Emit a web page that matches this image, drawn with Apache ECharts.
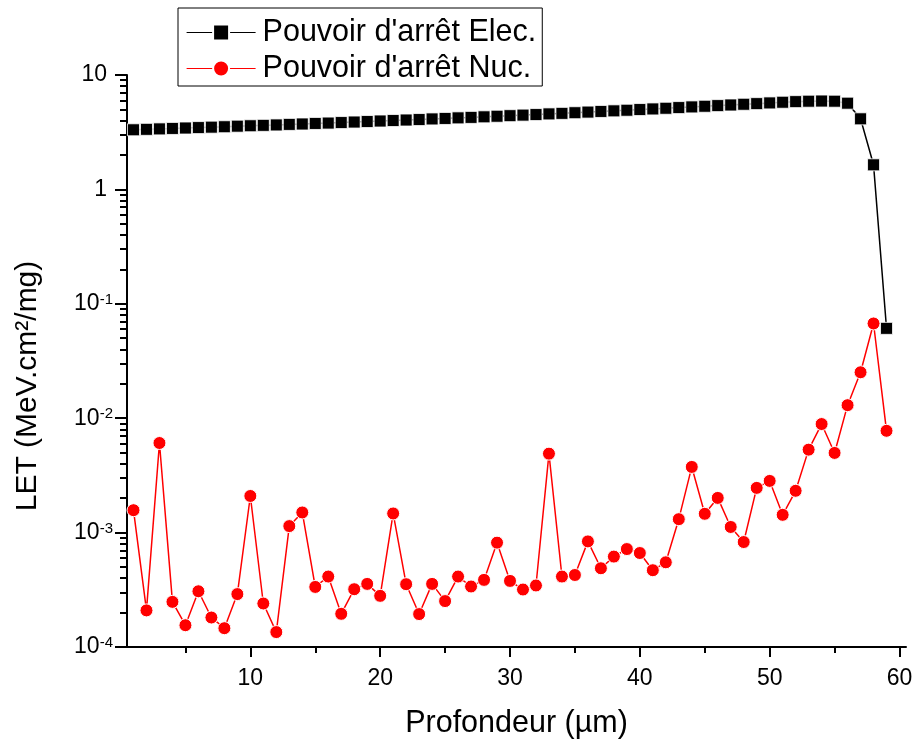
<!DOCTYPE html>
<html><head><meta charset="utf-8">
<script src="https://cdn.jsdelivr.net/npm/echarts@6/dist/echarts.min.js"></script>
<style>html,body{margin:0;padding:0;background:#fff}#c{width:918px;height:744px}</style>
</head><body><div id="c"></div>
<script>
// ---- data ----
const depth = [1,2,3,4,5,6,7,8,9,10,11,12,13,14,15,16,17,18,19,20,21,22,23,24,25,26,27,28,29,30,
  31,32,33,34,35,36,37,38,39,40,41,42,43,44,45,46,47,48,49,50,51,52,53,54,55,56,57,58,59];
const elecValues = [3.32,3.35,3.38,3.41,3.44,3.47,3.50,3.53,3.57,3.60,3.63,3.66,3.70,3.73,3.77,3.80,3.84,3.88,3.92,3.96,
  4.00,4.04,4.08,4.13,4.17,4.22,4.26,4.31,4.36,4.41,4.46,4.51,4.57,4.62,4.68,4.74,4.80,4.86,4.92,4.99,
  5.05,5.12,5.19,5.26,5.33,5.40,5.47,5.55,5.62,5.70,5.78,5.85,5.90,5.92,5.90,5.67,4.14,1.64,0.061];
const nucValues = [1.57e-3,2.09e-4,6.07e-3,2.48e-4,1.55e-4,3.07e-4,1.81e-4,1.46e-4,2.90e-4,2.09e-3,
  2.40e-4,1.35e-4,1.14e-3,1.50e-3,3.35e-4,4.13e-4,1.95e-4,3.20e-4,3.56e-4,2.80e-4,
  1.47e-3,3.54e-4,1.94e-4,3.56e-4,2.52e-4,4.13e-4,3.38e-4,3.86e-4,8.17e-4,3.78e-4,
  3.18e-4,3.45e-4,4.90e-3,4.13e-4,4.26e-4,8.38e-4,4.88e-4,6.17e-4,7.18e-4,6.63e-4,
  4.69e-4,5.50e-4,1.31e-3,3.75e-3,1.46e-3,2.01e-3,1.12e-3,8.27e-4,2.46e-3,2.83e-3,
  1.43e-3,2.32e-3,5.31e-3,8.89e-3,4.97e-3,1.30e-2,2.52e-2,6.73e-2,7.76e-3];
const seriesNames = ["Pouvoir d'arrêt Elec.", "Pouvoir d'arrêt Nuc."];
const xMajorTicks = [10,20,30,40,50,60];
const xMinorTicks = [5,15,25,35,45,55];
const yMajorTicks = [1e-4,1e-3,1e-2,1e-1,1,10];
const yMinorTicks = [2e-4,3e-4,4e-4,5e-4,6e-4,7e-4,8e-4,9e-4,
  2e-3,3e-3,4e-3,5e-3,6e-3,7e-3,8e-3,9e-3,
  2e-2,3e-2,4e-2,5e-2,6e-2,7e-2,8e-2,9e-2,
  0.2,0.3,0.4,0.5,0.6,0.7,0.8,0.9,
  2,3,4,5,6,7,8,9];
const xTitle = 'Profondeur (µm)';
const yTitle = 'LET (MeV.cm²/mg)';

// ---- chart ----
const FONT = "'Liberation Sans', Arial, sans-serif";
const chart = echarts.init(document.getElementById('c'), null, {renderer: 'canvas'});
const axisLine = {show: true, onZero: false, lineStyle: {color: '#000', width: 2}};
const tickStyle = {color: '#000', width: 2};

function yLabel(v) {
  const e = Math.round(Math.log10(v));
  if (e === 1) return '{n|10}';
  if (e === 0) return '{n|1}';
  return '{b|10}{s|' + e + '}';
}

const option = {
  animation: false,
  backgroundColor: '#fff',
  grid: {left: 127, top: 75, right: 12, bottom: 95, containLabel: false},
  legend: {
    data: seriesNames,
    orient: 'vertical',
    left: 178, top: 8,
    itemWidth: 69, itemHeight: 20, itemGap: 5,
    padding: [9, 6, 2, 8],
    borderColor: '#000', borderWidth: 1,
    textStyle: {fontSize: 30.5, fontFamily: FONT, color: '#000', padding: [0, 0, 0, 2]},
    lineStyle: {width: 1.2}
  },
  xAxis: [{
    type: 'value', min: 0.5, max: 60.5, position: 'bottom',
    axisLine: axisLine,
    splitLine: {show: false},
    axisTick: {show: true, length: 10, lineStyle: tickStyle, customValues: xMajorTicks},
    axisLabel: {fontSize: 23, fontFamily: FONT, color: '#000', margin: 20, customValues: xMajorTicks},
    name: xTitle, nameLocation: 'middle', nameGap: 61,
    nameTextStyle: {fontSize: 30.5, fontFamily: FONT, color: '#000'}
  }, {
    type: 'value', min: 0.5, max: 60.5, position: 'bottom',
    axisLine: {show: false, onZero: false},
    splitLine: {show: false},
    axisTick: {show: true, length: 6, lineStyle: tickStyle, customValues: xMinorTicks},
    axisLabel: {show: false}
  }],
  yAxis: [{
    type: 'log', logBase: 10, min: 1e-4, max: 10, position: 'left',
    axisLine: axisLine,
    splitLine: {show: false},
    axisTick: {show: true, length: 12, lineStyle: tickStyle},
    axisLabel: {
      margin: 14, formatter: yLabel,
      rich: {
        n: {fontSize: 23, fontFamily: FONT, color: '#000', padding: [0, 6, 0, 0]},
        b: {fontSize: 23, fontFamily: FONT, color: '#000'},
        s: {fontSize: 15, fontFamily: FONT, color: '#000', verticalAlign: 'top'}
      }
    }
  }, {
    type: 'value', min: -4, max: 1, position: 'left',
    axisLine: {show: false, onZero: false},
    splitLine: {show: false},
    axisTick: {show: true, length: 7, lineStyle: tickStyle, customValues: yMinorTicks.map(v => Math.log10(v))},
    axisLabel: {show: false}
  }],
  graphic: [{
    type: 'text', x: 28, y: 386, rotation: Math.PI / 2,
    style: {text: yTitle, font: '30px ' + FONT, fill: '#000', align: 'center', verticalAlign: 'middle'}
  }],
  series: [{
    name: seriesNames[0], type: 'line', xAxisIndex: 0, yAxisIndex: 0,
    data: depth.map((d, i) => [d, elecValues[i]]),
    symbol: 'rect', symbolSize: 12,
    lineStyle: {color: '#000', width: 1.5},
    itemStyle: {color: '#000', borderColor: '#fff', borderWidth: 0.8},
    z: 2
  }, {
    name: seriesNames[1], type: 'line', xAxisIndex: 0, yAxisIndex: 0,
    data: depth.map((d, i) => [d, nucValues[i]]),
    symbol: 'circle', symbolSize: 13,
    lineStyle: {color: '#ff0000', width: 1.5},
    itemStyle: {color: '#ff0000', borderColor: '#fff', borderWidth: 1},
    z: 3
  }]
};
chart.setOption(option);
</script>
</body></html>
